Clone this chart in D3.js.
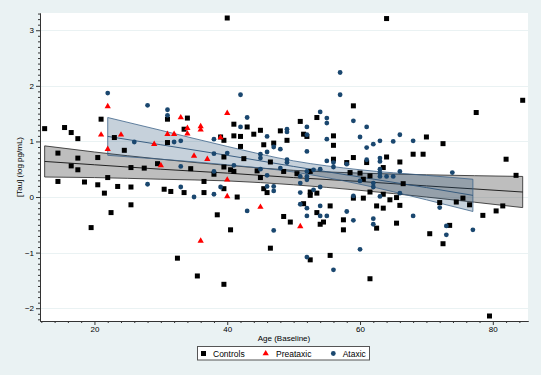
<!DOCTYPE html>
<html><head><meta charset="utf-8">
<script src="https://cdn.jsdelivr.net/npm/d3@7"></script>
<style>html,body{margin:0;padding:0;background:#eaf2f3;} svg{display:block;}</style>
</head><body><svg id="c" width="541" height="375"></svg>
<script>
// ---------- data ----------
const controlsAge = [12.5,15.5,16.5,17.5,21.0,23.0,24.5,14.5,17.5,20.5,16.5,17.5,25.5,27.5,22.0,14.5,18.5,20.5,23.5,25.5,21.5,25.5,22.5,19.5,29.5,30.5,31.5,33.5,36.5,36.5,39.5,41.5,38.5,40.5,32.5,35.5,39.5,45.5,46.0,46.5,40.0,31.0,34.0,33.5,31.0,39.0,39.5,41.0,41.0,42.0,39.5,34.5,38.0,39.5,40.5,41.0,42.0,43.0,44.0,45.0,45.5,47.0,48.0,49.0,51.0,51.5,52.0,53.5,56.0,56.0,46.5,42.5,44.5,48.5,45.0,50.5,52.5,56.0,52.5,52.5,53.5,48.5,49.5,51.5,53.5,54.0,54.5,55.5,52.5,55.5,64.0,59.0,70.0,68.0,69.5,59.0,58.0,61.0,64.0,66.0,63.5,58.5,60.0,60.5,61.5,66.5,61.5,63.5,59.0,60.5,64.5,65.5,62.5,63.5,66.0,57.5,62.5,65.5,57.5,70.5,61.5,72.5,77.5,84.5,82.0,83.5,72.0,74.5,75.5,76.5,78.5,80.5,81.5,73.5,72.5,79.5];
const controlsTau = [1.23,1.25,1.16,1.05,1.40,1.07,0.84,0.79,0.70,0.71,0.56,0.49,0.53,0.52,0.35,0.28,0.27,0.22,0.19,0.18,0.07,-0.14,-0.28,-0.55,0.60,0.14,0.10,0.08,0.28,0.08,0.15,0.00,-0.32,-0.59,-1.10,-1.42,-1.57,0.15,0.08,-0.92,3.22,1.40,1.42,1.22,0.98,1.08,1.02,1.31,1.10,1.09,0.72,0.51,0.41,0.54,0.49,0.46,0.91,1.26,1.13,1.20,0.94,0.97,1.19,1.02,1.36,1.13,1.09,1.43,1.10,0.93,0.63,0.69,0.47,0.46,0.35,0.42,0.46,0.68,0.09,0.03,0.07,-0.35,-0.45,-0.12,-0.28,-0.49,-0.45,-0.16,-1.13,-1.05,3.21,1.64,1.08,0.77,0.77,0.71,0.62,0.62,0.72,0.63,0.53,0.44,0.43,0.32,0.38,0.24,0.09,0.05,-0.02,-0.02,-0.05,-0.01,-0.16,-0.20,-0.15,-0.41,-0.56,-0.47,-0.59,-0.66,-1.47,0.96,1.52,1.74,0.68,0.39,-0.10,-0.09,-0.02,-0.14,-0.33,-0.25,-0.16,-0.51,-0.84,-2.14];

const preAge = [22.0,21.0,24.0,22.0,29.0,30.0,31.0,32.0,33.0,34.0,34.0,36.0,36.0,35.0,37.0,39.0,40.0,40.0,40.0,36.0,45.0,51.0];
const preTau = [1.63,1.12,1.12,0.86,0.95,0.57,1.13,1.13,1.43,1.24,1.14,1.27,1.21,0.74,0.68,1.07,1.51,0.31,0.01,-0.79,-0.18,-0.53];

const ataxAge = [22.0,28.0,31.0,31.0,26.0,32.0,33.0,38.0,40.0,38.0,42.0,42.0,28.0,33.0,33.0,35.0,38.0,39.0,38.0,41.0,43.0,46.0,47.0,46.0,48.0,49.0,49.0,52.0,52.0,54.0,55.0,55.0,55.0,52.0,45.0,45.0,49.0,49.0,45.0,48.0,46.0,51.0,52.0,52.0,52.0,53.0,54.0,55.0,56.0,56.0,46.0,47.0,47.0,51.0,51.0,53.0,54.0,43.0,47.0,51.0,52.0,52.0,54.0,54.0,55.0,52.0,56.0,57.0,57.0,59.0,61.0,60.0,66.0,62.0,61.0,63.0,65.0,68.0,58.0,61.0,63.0,63.0,63.0,66.0,60.0,62.0,62.0,63.0,63.0,64.0,65.0,66.0,63.0,59.0,58.0,59.0,62.0,62.0,68.0,60.0,73.9,72.0,73.0,73.0,77.0];
const ataxTau = [1.87,1.65,1.57,1.47,0.99,0.99,1.01,1.04,0.79,0.78,1.84,1.26,0.23,0.55,0.18,0.00,0.05,0.18,0.46,0.57,1.43,1.09,0.90,0.81,0.86,1.22,1.17,1.26,1.12,1.53,1.42,1.33,1.04,0.82,0.77,0.70,0.67,0.62,0.50,0.52,0.39,0.37,0.46,0.37,0.31,0.49,0.50,0.65,0.62,0.54,0.19,0.19,0.11,0.25,0.08,0.13,0.18,-0.25,-0.60,-0.13,-0.20,-0.34,-0.16,-0.34,-0.34,-1.08,-1.31,2.24,1.84,1.37,1.26,1.08,1.12,0.95,0.89,1.01,1.00,1.01,0.59,0.67,0.70,0.64,0.50,0.46,0.29,0.25,0.18,0.43,0.37,0.37,0.37,0.07,0.01,0.02,-0.26,-0.42,-0.39,-0.49,-0.34,-0.94,0.44,-0.19,-0.52,-0.68,-0.59];

// fitted lines with 95% CI
const ctrlFitAge = [12.5,20,30,40,50,60,70,84.5];
const ctrlFit    = [0.64,0.58,0.50,0.43,0.35,0.28,0.20,0.09];
const ctrlLo     = [0.36,0.35,0.32,0.29,0.22,0.12,0.00,-0.19];
const ctrlHi     = [0.92,0.81,0.68,0.57,0.48,0.43,0.40,0.37];

const ataxFitAge = [22,30,40,50,60,70,77];
const ataxFit    = [1.09,0.94,0.75,0.55,0.36,0.17,0.03];
const ataxLo     = [0.75,0.68,0.58,0.45,0.23,-0.05,-0.26];
const ataxHi     = [1.43,1.20,0.91,0.65,0.49,0.39,0.32];

const xTicks = [20,40,60,80];
const yTicks = [-2,-1,0,1,2,3];
const legendLabels = ["Controls","Preataxic","Ataxic"];

// ---------- drawing ----------
const W=541,H=375, L=40,R=528,T=13,B=321;
const FONT = '"Liberation Sans", Arial, Helvetica, sans-serif';
const x = d3.scaleLinear().domain([11.8,85.3]).range([L,R]);
const y = d3.scaleLinear().domain([-2.23,3.31]).range([B,T]);
const svg = d3.select('#c');
svg.append('rect').attr('width',W).attr('height',H).attr('fill','#eaf2f3');
svg.append('rect').attr('x',L).attr('y',T).attr('width',R-L).attr('height',B-T).attr('fill','#ffffff');

// grid
svg.append('g').selectAll('line').data(yTicks).join('line')
  .attr('x1',L).attr('x2',R).attr('y1',d=>Math.round(y(d))+0.5).attr('y2',d=>Math.round(y(d))+0.5)
  .attr('stroke','#eaf2f3').attr('stroke-width',1);

function band(ages, lo, hi, fit, fill, stroke, lineColor){
  const pts = ages.map((a,i)=>({a, lo:lo[i], hi:hi[i], f:fit[i]}));
  const area = d3.area().x(d=>x(d.a)).y0(d=>y(d.lo)).y1(d=>y(d.hi)).curve(d3.curveMonotoneX);
  const g = svg.append('g');
  g.append('path').attr('d',area(pts)).attr('fill',fill).attr('stroke',stroke).attr('stroke-width',0.8);
  g.append('path').attr('d',d3.line().x(d=>x(d.a)).y(d=>y(d.f)).curve(d3.curveMonotoneX)(pts))
    .attr('fill','none').attr('stroke',lineColor).attr('stroke-width',0.9);
}
band(ctrlFitAge, ctrlLo, ctrlHi, ctrlFit, 'rgba(100,100,100,0.42)', '#222', '#111');
band(ataxFitAge, ataxLo, ataxHi, ataxFit, 'rgba(26,71,111,0.25)', '#3d6389', '#2b5278');

// points
const NAVY='#1a476f', RED='#ff0000';
const triPath = d3.symbol(d3.symbolTriangle, 17)();
const sq = 5;
svg.append('g').selectAll('rect').data(controlsAge.map((a,i)=>[a,controlsTau[i]])).join('rect')
  .attr('x',d=>x(d[0])-sq/2).attr('y',d=>y(d[1])-sq/2).attr('width',sq).attr('height',sq).attr('fill','#000');
svg.append('g').selectAll('path').data(preAge.map((a,i)=>[a,preTau[i]])).join('path')
  .attr('d',triPath).attr('transform',d=>`translate(${x(d[0])},${y(d[1])})`).attr('fill',RED);
svg.append('g').selectAll('circle').data(ataxAge.map((a,i)=>[a,ataxTau[i]])).join('circle')
  .attr('cx',d=>x(d[0])).attr('cy',d=>y(d[1])).attr('r',2.4).attr('fill',NAVY);

// axes
const yMinor = d3.range(-22,34).map(v=>v/10).filter(v=>!yTicks.includes(v));
const xMinor = d3.range(12,86,2).filter(v=>!xTicks.includes(v));
const ax = svg.append('g').attr('transform',`translate(${L},0)`);
ax.call(d3.axisLeft(y).tickValues(yTicks).tickSize(4).tickSizeOuter(0).tickPadding(2).tickFormat(d3.format('d')));
const axm = svg.append('g').attr('transform',`translate(${L},0)`);
axm.call(d3.axisLeft(y).tickValues(yMinor).tickSize(2).tickSizeOuter(0).tickFormat(''));
const bx = svg.append('g').attr('transform',`translate(0,${B})`);
bx.call(d3.axisBottom(x).tickValues(xTicks).tickSize(4).tickSizeOuter(0).tickPadding(1).tickFormat(d3.format('d')));
const bxm = svg.append('g').attr('transform',`translate(0,${B})`);
bxm.call(d3.axisBottom(x).tickValues(xMinor).tickSize(2).tickSizeOuter(0).tickFormat(''));
svg.selectAll('.domain').attr('stroke','#333');
svg.selectAll('.tick line').attr('stroke','#333');
svg.selectAll('.tick text').attr('font-family',FONT).attr('font-size',8).attr('fill','#000');

// axis titles
svg.append('text').attr('transform',`translate(21.5,${(T+B)/2}) rotate(-90)`).attr('text-anchor','middle')
  .attr('font-family',FONT).attr('font-size',8).text('[Tau] (log pg/mL)');
svg.append('text').attr('x',(L+R)/2).attr('y',340.5).attr('text-anchor','middle')
  .attr('font-family',FONT).attr('font-size',8).text('Age (Baseline)');

// legend
const lg = svg.append('g');
lg.append('rect').attr('x',197.5).attr('y',346.5).attr('width',172).attr('height',13.5)
  .attr('fill','#fff').attr('stroke','#555').attr('stroke-width',1);
const ly = 353.5;
lg.append('rect').attr('x',203.5-sq/2).attr('y',ly-sq/2).attr('width',sq).attr('height',sq).attr('fill','#000');
lg.append('path').attr('d',triPath).attr('transform',`translate(265.7,${ly})`).attr('fill',RED);
lg.append('circle').attr('cx',333.3).attr('cy',ly).attr('r',2.4).attr('fill',NAVY);
const lx = [213,276,342.7];
lg.selectAll('text').data(legendLabels).join('text').attr('x',(d,i)=>lx[i]).attr('y',ly+3)
  .attr('font-family',FONT).attr('font-size',8.5).text(d=>d);
</script></body></html>
